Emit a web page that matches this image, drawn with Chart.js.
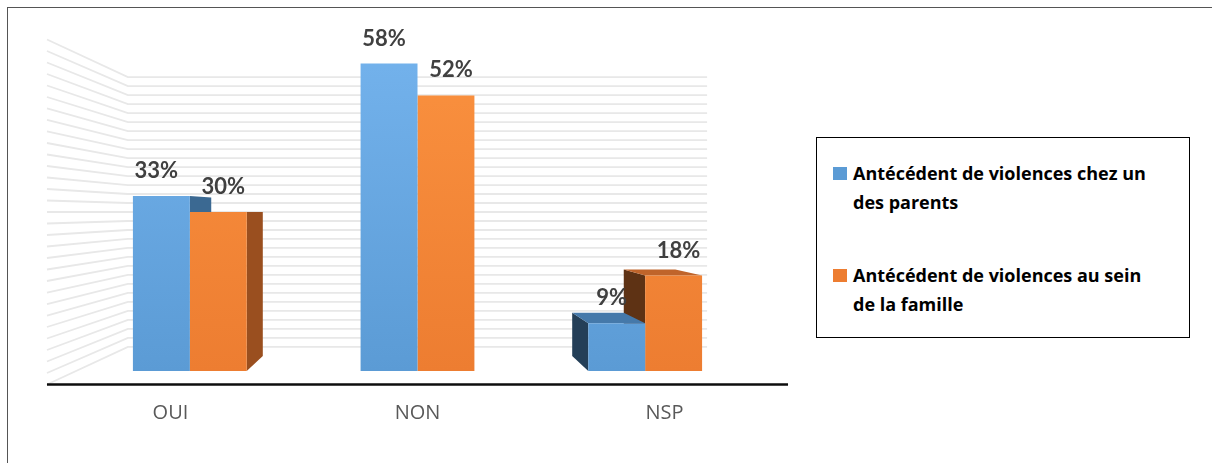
<!DOCTYPE html>
<html><head><meta charset="utf-8">
<script src="https://cdn.jsdelivr.net/npm/chart.js@4/dist/chart.umd.min.js"></script>
<style>
html,body{margin:0;padding:0;background:#fff;}
#wrap{position:relative;width:1212px;height:463px;overflow:hidden;background:#fff;}
#frame{position:absolute;left:7px;top:7px;width:1300px;height:600px;border-left:1.5px solid #555;border-top:1.5px solid #555;}
#c{position:absolute;left:0;top:0;}
#legend{position:absolute;left:816px;top:137px;width:374px;height:201px;border:1px solid #000;box-sizing:border-box;font-family:"Open Sans",Lato,sans-serif;font-weight:bold;font-size:18px;color:#000;background:#fff;}
.item{position:absolute;left:36px;line-height:29px;white-space:nowrap;}
.sw{position:absolute;left:-20px;top:8px;width:14px;height:13px;}
</style>
</head><body>
<div id="wrap">
<div id="frame"></div>
<canvas id="c" width="1212" height="463"></canvas>
<div id="legend"></div>
</div>
<script>
const categories = ['OUI', 'NON', 'NSP'];
const seriesNames = ['Antécédent de violences chez un des parents', 'Antécédent de violences au sein de la famille'];
const legendLines = [['Antécédent de violences chez un', 'des parents'], ['Antécédent de violences au sein', 'de la famille']];
const parentsValues = [33, 58, 9];
const familleValues = [30, 52, 18];
const yMin = 0, yMax = 60, gridStep = 2;

const FRONT = 1.085, BACK = 0.906, WALL = 0.848;
const labelShift = [-5, 5];
const palette = [
  {bottom:'#5B9BD5', top:'#73B2EC', right:'#3B6992', left:'#243F58', cap:'#4579AA'},
  {bottom:'#ED7D31', top:'#FA913F', right:'#9A4F1F', left:'#5E3214', cap:'#C0642A'}
];

// legend (HTML)
const lg = document.getElementById('legend');
legendLines.forEach((lines, i) => {
  const d = document.createElement('div');
  d.className = 'item';
  d.style.top = (i === 0 ? 21 : 123) + 'px';
  d.innerHTML = '<span class="sw" style="background:' + palette[i].bottom + '"></span>' + lines.join('<br>');
  lg.appendChild(d);
});

function grad(i){
  return (c) => {
    const a = c.chart.chartArea;
    if (!a) return palette[i].bottom;
    const g = c.chart.ctx.createLinearGradient(0, a.bottom, 0, a.top);
    g.addColorStop(0, palette[i].bottom);
    g.addColorStop(1, palette[i].top);
    return g;
  };
}

const persp = {
  id: 'persp',
  beforeDatasetsDraw(chart){
    const {ctx, chartArea:a, scales:{x, y}} = chart;
    const vx = (a.left + a.right) / 2, vy = y.getPixelForValue((yMin + yMax) / 2);
    const P = (px, py, s) => [vx + (px - vx) * s, vy + (py - vy) * s];
    ctx.save();
    // back wall + left wall gridlines
    ctx.strokeStyle = '#E8E8E8'; ctx.lineWidth = 1.8;
    for (let v = yMin; v <= yMax; v += gridStep){
      const py = y.getPixelForValue(v);
      const f = P(a.left, py, FRONT), wl = P(a.left, py, WALL), wr = P(a.right, py, WALL);
      ctx.beginPath(); ctx.moveTo(f[0], f[1]); ctx.lineTo(wl[0], wl[1]); ctx.lineTo(wr[0], wr[1]); ctx.stroke();
    }
    // 3D faces of bars
    const poly = (pts, col) => { ctx.fillStyle = col; ctx.beginPath(); ctx.moveTo(pts[0][0], pts[0][1]); for (let k = 1; k < pts.length; k++) ctx.lineTo(pts[k][0], pts[k][1]); ctx.closePath(); ctx.fill(); };
    categories.forEach((cat, i) => {
      const bars = chart.data.datasets.map((ds, d) => ({d, el: chart.getDatasetMeta(d).data[i]}));
      bars.sort((p, q) => Math.abs(q.el.x - vx) - Math.abs(p.el.x - vx));
      bars.forEach(({d, el}) => {
        const {x:cx, y:top, base, width} = el.getProps(['x', 'y', 'base', 'width'], true);
        const xl = cx - width / 2, xr = cx + width / 2;
        if (xr < vx - 1){
          poly([P(xr, top, 1), P(xr, top, BACK), P(xr, base, BACK), P(xr, base, 1)], palette[d].right);
        } else if (xl > vx + 1){
          poly([P(xl, top, 1), P(xl, top, BACK), P(xl, base, BACK), P(xl, base, 1)], palette[d].left);
        }
        if (top > vy + 1){
          poly([P(xl, top, 1), P(xr, top, 1), P(xr, top, BACK), P(xl, top, BACK)], palette[d].cap);
        }
      });
    });
    ctx.restore();
  },
  afterDatasetsDraw(chart){
    const {ctx, chartArea:a, scales:{x, y}} = chart;
    const vx = (a.left + a.right) / 2, vy = y.getPixelForValue((yMin + yMax) / 2);
    const P = (px, py, s) => [vx + (px - vx) * s, vy + (py - vy) * s];
    ctx.save();
    // x axis line (front edge of floor)
    const y0 = y.getPixelForValue(yMin);
    const l = P(a.left, y0, FRONT), r = P(a.right, y0, FRONT);
    ctx.strokeStyle = '#0d0d0d'; ctx.lineWidth = 2.6;
    ctx.beginPath(); ctx.moveTo(l[0], l[1]); ctx.lineTo(r[0], r[1]); ctx.stroke();
    // category labels
    ctx.fillStyle = '#595959'; ctx.font = '20px "Open Sans"'; ctx.textAlign = 'center'; ctx.textBaseline = 'middle';
    categories.forEach((cat, i) => {
      const p = P(x.getPixelForValue(i), y0, FRONT);
      ctx.fillText(cat, p[0], l[1] + 29);
    });
    // value labels
    ctx.fillStyle = '#404040'; ctx.font = 'bold 22px Lato';
    chart.data.datasets.forEach((ds, d) => {
      chart.getDatasetMeta(d).data.forEach((el, i) => {
        ctx.fillText(ds.data[i] + '%', el.x + labelShift[d], el.y - 25);
      });
    });
    ctx.restore();
  }
};

new Chart(document.getElementById('c'), {
  type: 'bar',
  data: {
    labels: categories,
    datasets: [
      {label: seriesNames[0], data: parentsValues, backgroundColor: grad(0), borderWidth: 0},
      {label: seriesNames[1], data: familleValues, backgroundColor: grad(1), borderWidth: 0}
    ]
  },
  options: {
    responsive: false,
    animation: false,
    layout: {padding: {left: 76, right: 453, top: 53, bottom: 92}},
    datasets: {bar: {categoryPercentage: 0.5, barPercentage: 1}},
    scales: {
      x: {display: false},
      y: {display: false, min: yMin, max: yMax}
    },
    plugins: {legend: {display: false}, tooltip: {enabled: false}}
  },
  plugins: [persp]
});
</script>
</body></html>
